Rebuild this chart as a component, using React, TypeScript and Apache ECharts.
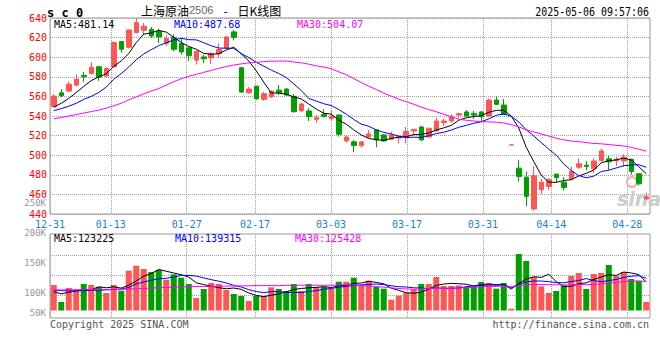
import React, { useEffect, useRef } from "react";
import * as echarts from "echarts";

const dates = [
  "12-31", "01-02", "01-03", "01-06", "01-07", "01-08", "01-09", "01-10", "01-13", "01-14",
  "01-15", "01-16", "01-17", "01-20", "01-21", "01-22", "01-23", "01-24", "01-27", "02-05",
  "02-06", "02-07", "02-10", "02-11", "02-12", "02-13", "02-14", "02-17", "02-18", "02-19",
  "02-20", "02-21", "02-24", "02-25", "02-26", "02-27", "02-28", "03-03", "03-04", "03-05",
  "03-06", "03-07", "03-10", "03-11", "03-12", "03-13", "03-14", "03-17", "03-18", "03-19",
  "03-20", "03-21", "03-24", "03-25", "03-26", "03-27", "03-28", "03-31", "04-01", "04-02",
  "04-03", "04-07", "04-08", "04-09", "04-10", "04-11", "04-14", "04-15", "04-16", "04-17",
  "04-18", "04-21", "04-22", "04-23", "04-24", "04-25", "04-28", "04-29", "04-30", "05-06",
];

const openP = [
  549.5, 563.7, 565.4, 571.5, 581.4, 583.4, 590.2, 580.7, 590.2, 615.9,
  610.2, 625.1, 627.5, 628.5, 626.4, 613.9, 620.0, 613.9, 609.5, 597.0,
  600.3, 599.3, 603.4, 609.2, 625.8, 589.2, 563.7, 570.5, 557.0, 559.7,
  566.4, 567.5, 560.0, 545.4, 545.1, 536.6, 541.7, 537.3, 541.0, 514.6,
  513.6, 509.8, 518.6, 525.8, 520.7, 516.3, 517.6, 518.6, 524.7, 528.8,
  518.6, 524.7, 533.2, 534.9, 541.0, 544.1, 542.4, 544.1, 540.0, 556.3,
  551.2, 510.5, 486.8, 477.6, 445.1, 464.7, 468.1, 480.7, 472.5, 475.9,
  487.8, 489.8, 486.1, 494.6, 496.3, 494.2, 494.2, 495.9, 481.0, 455.3,
];
const closeP = [
  560.3, 560.7, 572.5, 577.6, 580.0, 589.8, 579.7, 588.5, 614.9, 608.1,
  627.8, 635.3, 631.5, 621.7, 620.7, 619.0, 608.1, 605.4, 601.7, 606.1,
  598.3, 603.7, 607.8, 620.7, 620.3, 564.4, 567.5, 557.6, 562.7, 565.4,
  563.7, 561.4, 544.4, 552.2, 539.3, 538.3, 539.7, 540.0, 521.4, 518.6,
  509.8, 513.6, 521.7, 515.6, 514.6, 520.7, 519.3, 524.1, 526.4, 515.6,
  527.5, 534.9, 534.9, 539.0, 542.4, 540.0, 541.0, 539.3, 556.3, 551.9,
  541.7, 510.5, 478.3, 458.0, 479.0, 472.5, 474.9, 477.3, 467.1, 483.4,
  491.2, 488.5, 494.2, 504.4, 493.2, 495.9, 498.0, 483.4, 470.8, 457.6,
];
const lowP = [
  549.0, 559.3, 564.4, 570.5, 574.9, 582.4, 575.9, 580.0, 589.5, 604.7,
  608.8, 624.1, 622.4, 619.7, 614.6, 611.5, 606.1, 602.7, 596.6, 592.5,
  593.9, 593.2, 599.3, 608.5, 617.3, 563.4, 562.7, 556.3, 555.6, 558.3,
  561.4, 560.7, 543.4, 544.1, 534.9, 533.2, 538.3, 534.9, 519.0, 512.9,
  503.1, 507.8, 517.3, 508.1, 513.9, 515.3, 511.9, 512.2, 520.0, 514.6,
  518.0, 524.1, 529.8, 533.2, 537.6, 539.3, 537.0, 534.2, 540.0, 551.2,
  541.0, 510.5, 473.2, 447.8, 443.7, 460.3, 464.7, 472.5, 464.0, 474.2,
  486.1, 484.7, 482.0, 493.6, 484.7, 489.2, 488.1, 480.0, 469.2, 454.6,
];
const highP = [
  562.4, 567.5, 574.9, 582.4, 585.1, 594.9, 591.2, 589.8, 615.9, 616.5,
  628.5, 639.5, 634.9, 630.8, 629.2, 622.4, 623.4, 619.0, 610.5, 606.1,
  602.7, 605.4, 614.2, 621.7, 627.8, 590.2, 569.8, 570.5, 564.7, 566.1,
  571.5, 568.8, 562.4, 553.6, 547.8, 541.0, 546.8, 545.1, 541.7, 520.0,
  515.3, 513.6, 525.8, 526.4, 521.4, 524.1, 519.3, 528.8, 526.4, 529.8,
  528.1, 538.3, 537.3, 541.7, 543.4, 546.1, 545.1, 545.1, 558.0, 559.7,
  557.3, 510.5, 495.3, 483.4, 489.2, 475.9, 476.6, 480.7, 477.6, 488.5,
  496.9, 494.2, 496.9, 506.8, 499.3, 498.3, 501.0, 496.5, 481.7, 461.7,
];

const priceMa5 = [
  549, 553, 558, 564, 570.2, 576.1, 579.9, 583.1, 590.6, 596.2,
  603.8, 614.9, 623.5, 624.9, 627.4, 625.6, 620.2, 615, 611, 608.1,
  603.9, 603, 603.5, 607.3, 610.2, 603.4, 596.1, 586.1, 574.5, 563.5,
  563.4, 562.2, 559.5, 557.4, 552.2, 547.1, 542.8, 541.9, 535.7, 531.6,
  525.9, 520.7, 517, 515.9, 515.1, 517.2, 518.4, 518.9, 521, 521.2,
  522.6, 525.7, 527.9, 530.4, 535.7, 538.2, 539.5, 540.3, 543.8, 545.7,
  546, 539.9, 527.7, 508.1, 493.5, 479.7, 472.5, 472.3, 474.2, 475,
  478.8, 481.5, 484.9, 492.3, 494.3, 495.2, 497.1, 495, 488.3, 481.1,
];
const priceMa10 = [
  545.5, 547.5, 550, 553, 557, 560, 564, 569.5, 577.5, 583.2,
  590, 597.4, 603.3, 607.7, 611.8, 614.7, 617.6, 619.3, 617.9, 617.7,
  614.8, 611.6, 609.3, 609.2, 609.1, 603.7, 599.6, 594.8, 590.9, 586.8,
  583.4, 579.2, 572.8, 566, 557.9, 555.3, 552.5, 550.7, 546.6, 541.9,
  536.5, 531.7, 529.5, 525.8, 523.3, 521.6, 519.5, 517.9, 518.4, 518.1,
  519.9, 522, 523.4, 525.7, 528.5, 530.4, 532.6, 534.1, 537.1, 540.7,
  542.1, 539.7, 534, 525.9, 519.6, 512.9, 506.2, 500, 491.1, 484.3,
  479.2, 477, 478.6, 483.3, 484.7, 487, 489.3, 489.9, 490.3, 487.7,
];
const priceMa30 = [
  537, 538.5, 540, 541.5, 543, 544.5, 546, 548, 550.5, 553,
  556.5, 559.5, 562.5, 565.5, 568, 571.5, 575, 578, 580.5, 582.5,
  584.5, 586.5, 588.5, 590.5, 592, 593.2, 594.2, 594.8, 595.5, 595.9,
  596, 596.1, 595.1, 594.3, 592.9, 591.2, 589.9, 588.3, 585.1, 582.2,
  578.2, 574.2, 570.5, 567, 563.4, 560.2, 557.2, 554.5, 552, 549,
  546.6, 544.3, 541.9, 539.2, 536.6, 535.7, 534.9, 534.3, 534, 533.6,
  532.9, 531.2, 529, 525.8, 523.8, 521.6, 519.5, 517.4, 515.6, 514.4,
  513.8, 512.9, 512, 511.6, 510.9, 510.1, 509.4, 508, 506.2, 504.1,
];

const volume = [
  110400, 36800, 97400, 88800, 114700, 110400, 101800, 75800, 110400, 85900,
  172500, 194100, 179700, 166700, 175400, 133500, 156600, 142200, 114700, 54100,
  93100, 119100, 114700, 88800, 71400, 62800, 41100, 62800, 62800, 100300,
  93100, 84400, 114700, 84400, 114700, 101800, 101800, 93100, 124800, 124800,
  142200, 110400, 129200, 101800, 94500, 46900, 64200, 77200, 91700, 114700,
  114700, 145100, 106100, 106100, 109000, 101800, 104700, 123400, 119100, 94500,
  119100, 7900, 244600, 214300, 145100, 104700, 75800, 84400, 109000, 149400,
  162400, 93100, 158000, 162400, 197000, 149400, 166700, 136400, 127700, 36800,
];
const volMa5 = [
  81000, 72000, 79000, 85000, 89600, 89600, 102600, 98300, 102600, 96900,
  109300, 127700, 148500, 159800, 177700, 169900, 162400, 154900, 144500, 120200,
  112100, 104600, 99100, 94000, 97400, 91400, 75800, 65400, 60200, 66000,
  72000, 80700, 91100, 95400, 98300, 100000, 103500, 99200, 107200, 109300,
  117300, 119100, 126300, 121700, 115600, 96600, 87300, 76900, 74900, 78900,
  92500, 108700, 114500, 117300, 116200, 113600, 105500, 109000, 111600, 108700,
  112200, 92800, 117000, 136100, 146200, 143300, 156900, 124900, 103800, 104700,
  116200, 119700, 134400, 145100, 154600, 152000, 166700, 162400, 155400, 123200,
];
const volMa10 = [
  88000, 86000, 85000, 85000, 86000, 87000, 88000, 89000, 91000, 93200,
  99500, 115200, 123400, 131200, 137300, 139600, 145100, 151700, 152100, 149000,
  141000, 133500, 127000, 119200, 108800, 101800, 90200, 82300, 77100, 81700,
  81700, 78200, 78200, 77800, 82100, 86000, 92100, 95100, 101300, 103800,
  108700, 111300, 112700, 114500, 112400, 107000, 103200, 101600, 98300, 97300,
  94500, 98000, 95700, 96100, 97600, 103100, 107100, 111700, 114500, 112500,
  112900, 99200, 113000, 123800, 127500, 127700, 124900, 121000, 119900, 125400,
  129800, 138300, 129600, 124400, 129600, 134100, 143200, 148400, 150300, 139300,
];
const volMa30 = [
  89000, 89000, 89500, 90000, 90000, 90500, 91000, 91000, 91500, 92000,
  93000, 94000, 95500, 97000, 98500, 100000, 101000, 102000, 103000, 103500,
  104000, 104500, 105000, 105500, 106000, 106500, 107000, 107500, 107800, 108000,
  107400, 109000, 109500, 109400, 109400, 109100, 109100, 109700, 110200, 111500,
  110500, 107700, 106000, 103800, 101100, 98200, 95200, 93000, 92200, 94200,
  95000, 95800, 95500, 96100, 97400, 98700, 100800, 102800, 104700, 104500,
  105400, 102800, 107100, 111500, 112500, 112600, 111700, 111400, 110900, 111700,
  112400, 111800, 112800, 114800, 118200, 121600, 125000, 127000, 128200, 125400,
];

const dateTickIndex = [0, 8, 18, 27, 37, 47, 57, 66, 76];
const priceTicks = [440, 640, 20];
const volumeTicks = [50000, 250000, 50000];

const UP = "#ff5555";
const DOWN = "#00a000";
const MONO = "'DejaVu Sans Mono', monospace";
const GRIDC = "#a0a0a0";

export default function App() {
  const ref = useRef<HTMLDivElement>(null);
  useEffect(() => {
    const chart = echarts.init(ref.current as HTMLDivElement, null, { renderer: "svg" });
    const tickSet = new Set(dateTickIndex);
    const isTick = (i: number) => tickSet.has(i);
    const candleData = dates.map((_, i) => {
      const item: any = { value: [openP[i], closeP[i], lowP[i], highP[i]] };
      if (openP[i] === closeP[i]) {
        item.itemStyle = { color: UP, color0: UP, borderColor: UP, borderColor0: UP };
      }
      return item;
    });
    const volData = volume.map((v, i) => ({
      value: v,
      itemStyle: { color: closeP[i] >= openP[i] ? UP : DOWN },
    }));
    const line = (name: string, data: number[], color: string, xi: number, yi: number) => ({
      name,
      type: "line",
      data,
      xAxisIndex: xi,
      yAxisIndex: yi,
      symbol: "none",
      smooth: false,
      z: 5,
      lineStyle: { color, width: 1 },
      silent: true,
    });
    const dotted = { type: "dotted", color: GRIDC, width: 1 };
    const txt = (text: string, x: number, y: number, fill: string, extra: any = {}) => ({
      type: "text",
      x,
      y,
      z: 100,
      style: {
        text,
        fill,
        fontSize: 10,
        fontFamily: MONO,
        verticalAlign: "middle",
        ...extra,
      },
    });
    chart.setOption({
      animation: false,
      backgroundColor: "#ffffff",
      grid: [
        { left: 50, top: 18, width: 600, height: 196, show: true, borderColor: "#999", borderWidth: 1 },
        { left: 50, top: 234, width: 600, height: 84, show: true, borderColor: "#999", borderWidth: 1 },
        { left: 50, top: 235, width: 600, height: 80 },
        { left: 50, top: 202.5, width: 600, height: 120 },
      ],
      xAxis: [
        { type: "category", gridIndex: 0, data: dates, boundaryGap: true, show: false },
        {
          type: "category",
          gridIndex: 0,
          data: dates,
          boundaryGap: false,
          position: "bottom",
          axisLine: { show: false },
          axisTick: { show: false },
          axisLabel: {
            interval: (i: number) => isTick(i),
            color: "#1a7fd0",
            fontFamily: MONO,
            fontSize: 10,
            margin: 5,
          },
          splitLine: { show: true, interval: (i: number) => isTick(i), lineStyle: dotted },
        },
        { type: "category", gridIndex: 1, data: dates, boundaryGap: true, show: false },
        {
          type: "category",
          gridIndex: 1,
          data: dates,
          boundaryGap: false,
          axisLine: { show: false },
          axisTick: { show: false },
          axisLabel: { show: false },
          splitLine: { show: true, interval: (i: number) => isTick(i), lineStyle: dotted },
        },
        { type: "value", gridIndex: 2, show: false },
        { type: "value", gridIndex: 3, show: false },
      ],
      yAxis: [
        {
          type: "value",
          gridIndex: 0,
          min: priceTicks[0],
          max: priceTicks[1],
          interval: priceTicks[2],
          axisLine: { show: false },
          axisTick: { show: false },
          axisLabel: { color: "#ff0000", fontFamily: MONO, fontSize: 10, margin: 3, padding: [0, 0, 5, 0] },
          splitLine: { show: true, lineStyle: dotted },
        },
        { type: "value", gridIndex: 1, min: -32500, max: 331200, show: false },
        {
          type: "value",
          gridIndex: 2,
          min: 0,
          max: 4,
          interval: 1,
          axisLine: { show: false },
          axisTick: { show: false },
          axisLabel: { show: false },
          splitLine: { show: true, showMinLine: false, showMaxLine: false, lineStyle: dotted },
        },
        {
          type: "value",
          gridIndex: 3,
          min: volumeTicks[0],
          max: volumeTicks[1],
          interval: volumeTicks[2],
          axisLine: { show: false },
          axisTick: { show: false },
          splitLine: { show: false },
          axisLabel: {
            color: "#999999",
            fontFamily: MONO,
            fontSize: 9,
            margin: 4,
            formatter: (v: number) => (v === volumeTicks[0] ? "{s|" + v / 1000 + "K}" : v / 1000 + "K"),
            rich: {
              s: { color: "#999999", fontFamily: MONO, fontSize: 9, padding: [0, 0, 20, 0] },
            },
          },
        },
      ],
      series: [
        {
          name: "K",
          type: "candlestick",
          xAxisIndex: 0,
          yAxisIndex: 0,
          data: candleData,
          barWidth: 5,
          silent: true,
          itemStyle: { color: UP, color0: DOWN, borderColor: UP, borderColor0: DOWN, borderWidth: 1 },
        },
        line("MA5", priceMa5, "#000000", 0, 0),
        line("MA10", priceMa10, "#0000ff", 0, 0),
        line("MA30", priceMa30, "#ff00ff", 0, 0),
        {
          name: "VOL",
          type: "bar",
          xAxisIndex: 2,
          yAxisIndex: 1,
          data: volData,
          barWidth: 6,
          silent: true,
        },
        line("VMA5", volMa5, "#000000", 2, 1),
        line("VMA10", volMa10, "#0000ff", 2, 1),
        line("VMA30", volMa30, "#ff00ff", 2, 1),
      ],
      graphic: [
        txt("s c 0", 47, 13, "#000000", { fontSize: 12, fontWeight: "bold" }),
        {
          type: "text",
          x: 141,
          y: 10,
          z: 100,
          style: {
            text: "{a|上海原油}{b|2506}{c| - }{a|日K线图}",
            verticalAlign: "middle",
            rich: {
              a: { fontSize: 12, fontFamily: "'Noto Sans CJK SC'", fill: "#000000" },
              b: { fontSize: 11, fontFamily: "'Liberation Sans'", fill: "#666666" },
              c: { fontSize: 12, fontFamily: "'Noto Sans CJK SC'", fill: "#000000", width: 24, align: "center" },
            },
          },
        },
        {
          type: "text",
          x: 649,
          y: 12,
          z: 100,
          scaleX: 0.83,
          style: { text: "2025-05-06 09:57:06", fill: "#000000", fontSize: 12, fontFamily: MONO, align: "right", verticalAlign: "middle" },
        },
        txt("MA5:481.14", 54, 24, "#000000"),
        txt("MA10:487.68", 174, 24, "#0000ff"),
        txt("MA30:504.07", 297, 24, "#ff00ff"),
        txt("MA5:123225", 54, 238.5, "#000000"),
        txt("MA10:139315", 175, 238.5, "#0000ff"),
        txt("MA30:125428", 295, 238.5, "#ff00ff"),
        txt("Copyright 2025 SINA.COM", 50, 324, "#555555"),
        txt("http://finance.sina.com.cn", 649, 324, "#555555", { align: "right" }),
        {
          type: "circle",
          z: 1,
          shape: { cx: 632, cy: 182, r: 5 },
          style: { fill: "none", stroke: "#f2b0b0", lineWidth: 2 },
        },
        {
          type: "text",
          x: 617,
          y: 199,
          z: 1,
          style: { text: "sina", fill: "#cccccc", fontSize: 19, fontStyle: "italic", fontWeight: "bold", fontFamily: "'DejaVu Sans'", verticalAlign: "middle" },
        },
      ],
    });
    return () => chart.dispose();
  }, []);
  return <div ref={ref} style={{ position: "absolute", left: 0, top: 0, width: 660, height: 360 }} />;
}
